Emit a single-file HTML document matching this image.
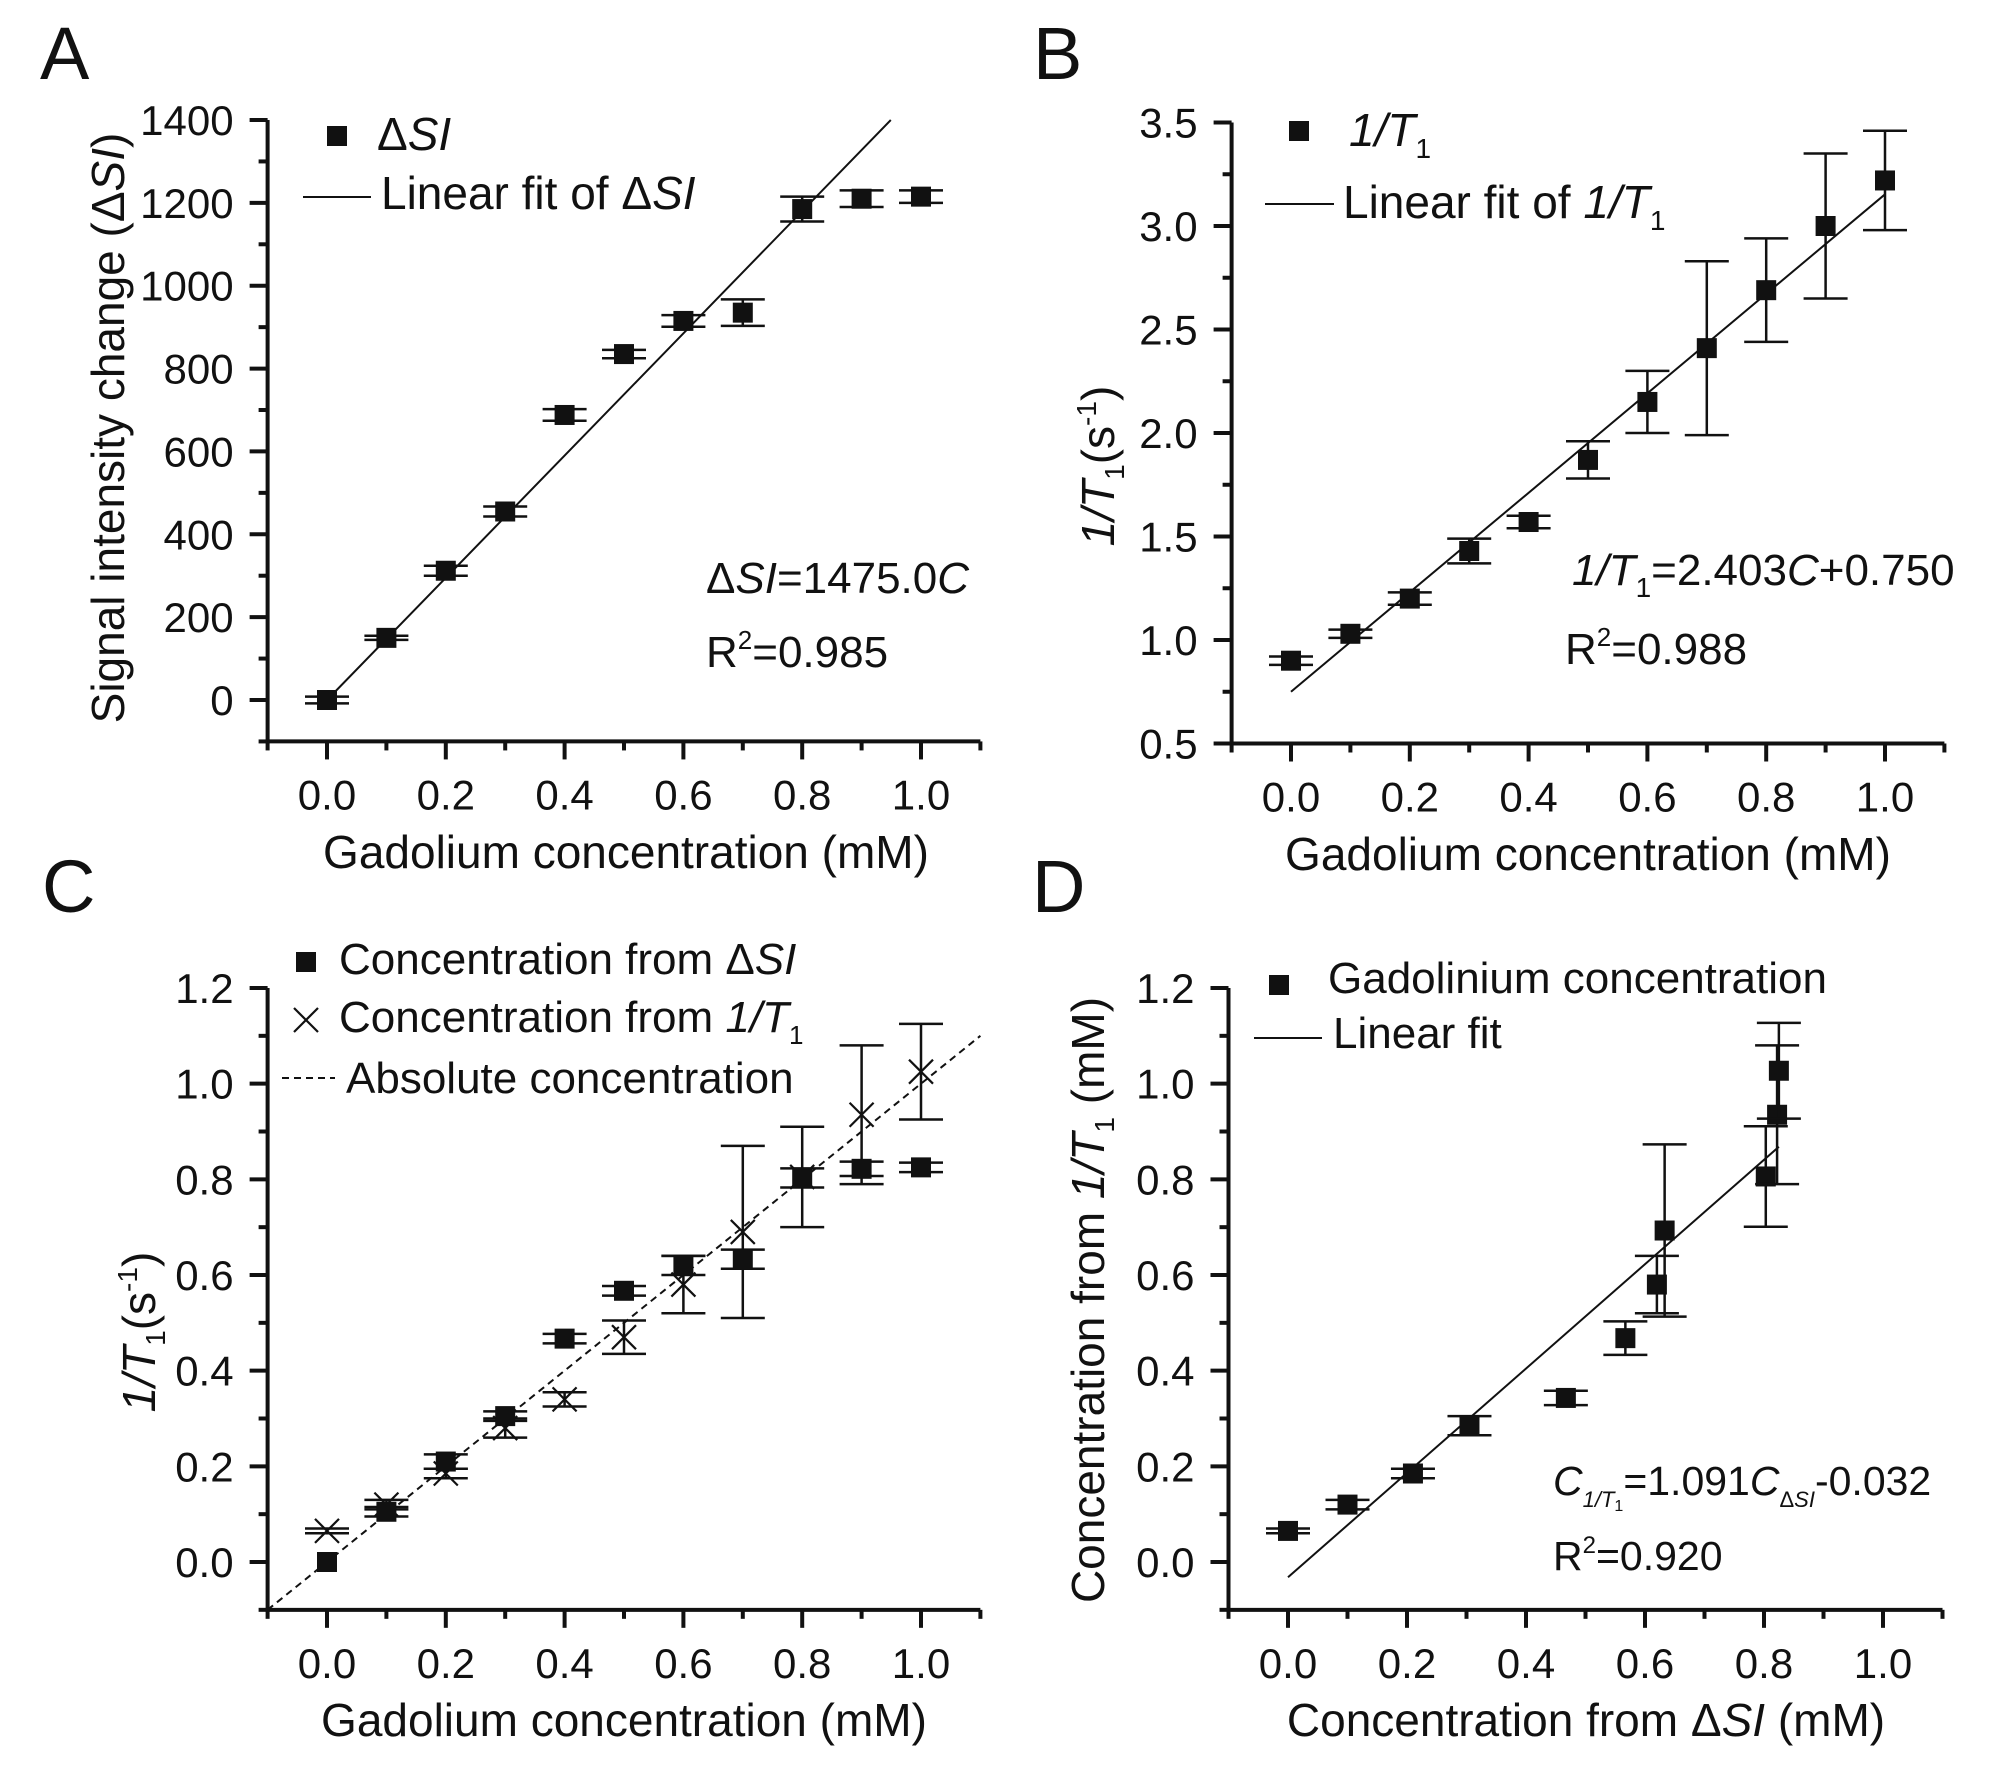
<!DOCTYPE html>
<html><head><meta charset="utf-8"><style>
html,body{margin:0;padding:0;background:#fff;}
svg{display:block;font-family:"Liberation Sans",Arial,sans-serif;}
</style></head><body>
<svg id="fig" width="2008" height="1772" viewBox="0 0 2008 1772" xmlns="http://www.w3.org/2000/svg">
<g id="static" fill="#111">
  <text x="40" y="79" font-size="74">A</text>
  <text x="1033" y="79" font-size="74">B</text>
  <text x="42" y="912" font-size="74">C</text>
  <text x="1032" y="912" font-size="74">D</text>

  <text x="626" y="868" font-size="46" text-anchor="middle">Gadolium concentration (mM)</text>
  <text x="124" y="428" font-size="46" text-anchor="middle" transform="rotate(-90 124 428)">Signal intensity change (Δ<tspan font-style="italic">SI</tspan>)</text>
  <text x="377" y="150" font-size="46">Δ<tspan font-style="italic">SI</tspan></text>
  <text x="381" y="209" font-size="46">Linear fit of Δ<tspan font-style="italic">SI</tspan></text>
  <text x="706" y="593" font-size="44">Δ<tspan font-style="italic">SI</tspan>=1475.0<tspan font-style="italic">C</tspan></text>
  <text x="706" y="667" font-size="44">R<tspan font-size="26" dy="-18">2</tspan><tspan dy="18">=0.985</tspan></text>

  <text x="1588" y="870" font-size="46" text-anchor="middle">Gadolium concentration (mM)</text>
  <text x="1114" y="466" font-size="46" text-anchor="middle" transform="rotate(-90 1114 466)"><tspan font-style="italic">1/T</tspan><tspan font-size="28" dy="10">1</tspan><tspan dy="-10">(s</tspan><tspan font-size="28" dy="-18">-1</tspan><tspan dy="18">)</tspan></text>
  <text x="1349" y="146" font-size="46"><tspan font-style="italic">1/T</tspan><tspan font-size="28" dy="12">1</tspan></text>
  <text x="1343" y="218" font-size="46">Linear fit of <tspan font-style="italic">1/T</tspan><tspan font-size="28" dy="12">1</tspan></text>
  <text x="1572" y="585" font-size="44"><tspan font-style="italic">1/T</tspan><tspan font-size="28" dy="12">1</tspan><tspan dy="-12">=2.403</tspan><tspan font-style="italic">C</tspan>+0.750</text>
  <text x="1565" y="664" font-size="44">R<tspan font-size="26" dy="-18">2</tspan><tspan dy="18">=0.988</tspan></text>

  <text x="624" y="1736" font-size="46" text-anchor="middle">Gadolium concentration (mM)</text>
  <text x="155" y="1332" font-size="46" text-anchor="middle" transform="rotate(-90 155 1332)"><tspan font-style="italic">1/T</tspan><tspan font-size="28" dy="10">1</tspan><tspan dy="-10">(s</tspan><tspan font-size="28" dy="-18">-1</tspan><tspan dy="18">)</tspan></text>
  <text x="339" y="974" font-size="44">Concentration from Δ<tspan font-style="italic">SI</tspan></text>
  <text x="339" y="1032" font-size="44">Concentration from <tspan font-style="italic">1/T</tspan><tspan font-size="26" dy="12">1</tspan></text>
  <text x="346" y="1093" font-size="44">Absolute concentration</text>

  <text x="1586" y="1736" font-size="46" text-anchor="middle">Concentration from Δ<tspan font-style="italic">SI</tspan> (mM)</text>
  <text x="1104" y="1300" font-size="46" text-anchor="middle" transform="rotate(-90 1104 1300)">Concentration from  <tspan font-style="italic">1/T</tspan><tspan font-size="28" dy="10">1</tspan><tspan dy="-10"> (mM)</tspan></text>
  <text x="1328" y="993" font-size="44">Gadolinium concentration</text>
  <text x="1333" y="1048" font-size="44">Linear fit</text>
  <text x="1553" y="1495" font-size="41"><tspan font-style="italic">C</tspan><tspan font-size="22" font-style="italic" dy="12">1/T</tspan><tspan font-size="16" dy="4">1</tspan><tspan dy="-16">=1.091</tspan><tspan font-style="italic">C</tspan><tspan font-size="22" dy="12">Δ</tspan><tspan font-size="22" font-style="italic">SI</tspan><tspan dy="-12">-0.032</tspan></text>
  <text x="1553" y="1570" font-size="41">R<tspan font-size="24" dy="-17">2</tspan><tspan dy="17">=0.920</tspan></text>
</g>
<g id="dyn"></g>
</svg>
<script>
// ---- Panel A data ----
const aConc = [0,0.1,0.2,0.3,0.4,0.5,0.6,0.7,0.8,0.9,1.0];
const aSI = [0,150,312,455,688,835,915,935,1185,1210,1215];
const aSIErr = [8,5,12,12,14,10,14,32,30,20,15];
const aFitSlope = 1475.0;
const aYTicks = ["0","200","400","600","800","1000","1200","1400"];
// ---- Panel B data ----
const bConc = [0,0.1,0.2,0.3,0.4,0.5,0.6,0.7,0.8,0.9,1.0];
const bR1 = [0.90,1.03,1.20,1.43,1.57,1.87,2.15,2.41,2.69,3.00,3.22];
const bR1Err = [0.02,0.02,0.03,0.06,0.03,0.09,0.15,0.42,0.25,0.35,0.24];
const bFitSlope = 2.403;
const bFitIntercept = 0.750;
const bYTicks = ["0.5","1.0","1.5","2.0","2.5","3.0","3.5"];
// ---- Panel C data ----
const cConc = [0,0.1,0.2,0.3,0.4,0.5,0.6,0.7,0.8,0.9,1.0];
const cFromSI = [0,0.105,0.21,0.305,0.467,0.567,0.62,0.633,0.803,0.822,0.825];
const cFromSIErr = [0,0.01,0.015,0.01,0.01,0.01,0.02,0.02,0.02,0.015,0.01];
const cFromR1 = [0.065,0.12,0.185,0.28,0.34,0.47,0.58,0.69,0.805,0.935,1.025];
const cFromR1Err = [0.005,0.01,0.01,0.02,0.015,0.035,0.06,0.18,0.105,0.145,0.1];
const cYTicks = ["0.0","0.2","0.4","0.6","0.8","1.0","1.2"];
// ---- Panel D data ----
const dXFromSI = [0,0.10,0.21,0.305,0.467,0.567,0.62,0.633,0.803,0.822,0.825];
const dYFromR1 = [0.065,0.12,0.185,0.285,0.343,0.468,0.58,0.693,0.806,0.935,1.027];
const dYErr = [0.005,0.01,0.01,0.02,0.015,0.035,0.06,0.18,0.105,0.145,0.1];
const dFitSlope = 1.091;
const dFitIntercept = -0.032;
const dYTicks = ["0.0","0.2","0.4","0.6","0.8","1.0","1.2"];
const xTickLabels = ["0.0","0.2","0.4","0.6","0.8","1.0"];

const NS = "http://www.w3.org/2000/svg";
const root = document.getElementById('dyn');
function mk(tag, attrs, parent){
  const e = document.createElementNS(NS, tag);
  for (const k in attrs) e.setAttribute(k, attrs[k]);
  (parent||root).appendChild(e);
  return e;
}
function makeAxes(g){
  const sx = v => g.x0 + v*(g.x1-g.x0);
  const sy = v => g.ya + (v-g.va)*(g.yb-g.ya)/(g.vb-g.va);
  return {sx, sy};
}
function drawAxes(name, g, s, yLabels, yLabelVals){
  const grp = mk('g', {});
  
  
  const ax = s.sx(-0.1), right = s.sx(1.1), bottom = s.sy(g.yMin), top = s.sy(g.yMax);
  const yl = mk('line', {x1:ax, y1:top, x2:ax, y2:bottom+2, stroke:'#111','stroke-width':4}, grp);
  
  
  const xl = mk('line', {x1:ax-2, y1:bottom, x2:right, y2:bottom, stroke:'#111','stroke-width':4}, grp);
  
  
  for (let i=-1;i<=11;i++){
    const v = i/10, major = (i>=0 && i%2===0);
    mk('line', {x1:s.sx(v), y1:bottom, x2:s.sx(v), y2:bottom+(major?18:9), stroke:'#111','stroke-width':4}, grp);
  }
  xTickLabels.forEach((t,i)=>{
    const tx = mk('text', {x:s.sx(i*0.2), y:bottom+68, 'font-size':42, 'text-anchor':'middle', fill:'#111'}, grp);
    tx.textContent = t;
    
    
  });
  const st = g.step;
  for (let v=g.yMin; v<=g.yMax+1e-9; v+=st/2){
    const isMajor = yLabelVals.some(m=>Math.abs(m-v)<1e-9);
    mk('line', {x1:ax-(isMajor?18:9), y1:s.sy(v), x2:ax, y2:s.sy(v), stroke:'#111','stroke-width':4}, grp);
  }
  yLabels.forEach((t,i)=>{
    const ty = mk('text', {x:ax-34, y:s.sy(yLabelVals[i])+15, 'font-size':42, 'text-anchor':'end', fill:'#111'}, grp);
    ty.textContent = t;
    
    
  });
}
function square(cx, cy, name, sz){
  sz = sz||20;
  const r = mk('rect', {x:cx-sz/2, y:cy-sz/2, width:sz, height:sz, fill:'#111'});
  
  
  return r;
}
function cross(cx, cy, name){
  const gp = mk('g', {stroke:'#111','stroke-width':2.2});
  
  
  mk('line',{x1:cx-12,y1:cy-12,x2:cx+12,y2:cy+12},gp);
  mk('line',{x1:cx-12,y1:cy+12,x2:cx+12,y2:cy-12},gp);
}
function errbar(cx, yTop, yBot, name, cap){
  cap = cap||22;
  const gp = mk('g', {stroke:'#111','stroke-width':2.5});
  
  
  mk('line',{x1:cx,y1:yTop,x2:cx,y2:yBot},gp);
  mk('line',{x1:cx-cap,y1:yTop,x2:cx+cap,y2:yTop},gp);
  mk('line',{x1:cx-cap,y1:yBot,x2:cx+cap,y2:yBot},gp);
}
function line(x1,y1,x2,y2,name,dash){
  const l = mk('line',{x1,y1,x2,y2,stroke:'#111','stroke-width':2,'stroke-dasharray':dash||'none'});
  
  
}

(function(){
  const g = {x0:327, x1:921, ya:700, va:0, yb:120, vb:1400, yMin:-100, yMax:1400, step:200};
  const s = makeAxes(g);
  drawAxes('a', g, s, aYTicks, aYTicks.map(Number));
  const xe = Math.min(1.1, 1400/aFitSlope);
  line(s.sx(0), s.sy(0), s.sx(xe), s.sy(aFitSlope*xe), 'a-fit-line');
  aConc.forEach((c,i)=>{
    errbar(s.sx(c), s.sy(aSI[i]+aSIErr[i]), s.sy(aSI[i]-aSIErr[i]), 'a-error-bar');
    square(s.sx(c), s.sy(aSI[i]), 'a-point');
  });
  square(337,136,'a-legend-square');
  line(303,197,371,197,'a-legend-line');
})();
(function(){
  const g = {x0:1291, x1:1885, ya:743.5, va:0.5, yb:122.5, vb:3.5, yMin:0.5, yMax:3.5, step:0.5};
  const s = makeAxes(g);
  drawAxes('b', g, s, bYTicks, bYTicks.map(Number));
  line(s.sx(0), s.sy(bFitIntercept), s.sx(1), s.sy(bFitIntercept+bFitSlope), 'b-fit-line');
  bConc.forEach((c,i)=>{
    errbar(s.sx(c), s.sy(bR1[i]+bR1Err[i]), s.sy(bR1[i]-bR1Err[i]), 'b-error-bar');
    square(s.sx(c), s.sy(bR1[i]), 'b-point');
  });
  square(1299,131,'b-legend-square');
  line(1265,204,1334,204,'b-legend-line');
})();
(function(){
  const g = {x0:327, x1:921, ya:1562, va:0, yb:988, vb:1.2, yMin:-0.1, yMax:1.2, step:0.2};
  const s = makeAxes(g);
  drawAxes('c', g, s, cYTicks, cYTicks.map(Number));
  line(s.sx(-0.1), s.sy(-0.1), s.sx(1.1), s.sy(1.1), 'c-identity-line', '7,5');
  cConc.forEach((c,i)=>{
    errbar(s.sx(c), s.sy(cFromR1[i]+cFromR1Err[i]), s.sy(cFromR1[i]-cFromR1Err[i]), 'c-cross-error-bar');
    cross(s.sx(c), s.sy(cFromR1[i]), 'c-cross-point');
  });
  cConc.forEach((c,i)=>{
    if (cFromSIErr[i]>0) errbar(s.sx(c), s.sy(cFromSI[i]+cFromSIErr[i]), s.sy(cFromSI[i]-cFromSIErr[i]), 'c-square-error-bar');
    square(s.sx(c), s.sy(cFromSI[i]), 'c-square-point');
  });
  square(306,962,'c-legend-square');
  cross(306,1020,'c-legend-cross');
  line(282,1078,335,1078,'c-legend-line','7,5');
})();
(function(){
  const g = {x0:1288, x1:1883, ya:1562, va:0, yb:988, vb:1.2, yMin:-0.1, yMax:1.2, step:0.2};
  const s = makeAxes(g);
  drawAxes('d', g, s, dYTicks, dYTicks.map(Number));
  const xe = Math.max(...dXFromSI);
  line(s.sx(0), s.sy(dFitIntercept), s.sx(xe), s.sy(dFitIntercept+dFitSlope*xe), 'd-fit-line');
  dXFromSI.forEach((x,i)=>{
    errbar(s.sx(x), s.sy(dYFromR1[i]+dYErr[i]), s.sy(dYFromR1[i]-dYErr[i]), 'd-error-bar');
    square(s.sx(x), s.sy(dYFromR1[i]), 'd-point');
  });
  square(1279,985,'d-legend-square');
  line(1254,1038,1322,1038,'d-legend-line');
})();
</script>
</body></html>
